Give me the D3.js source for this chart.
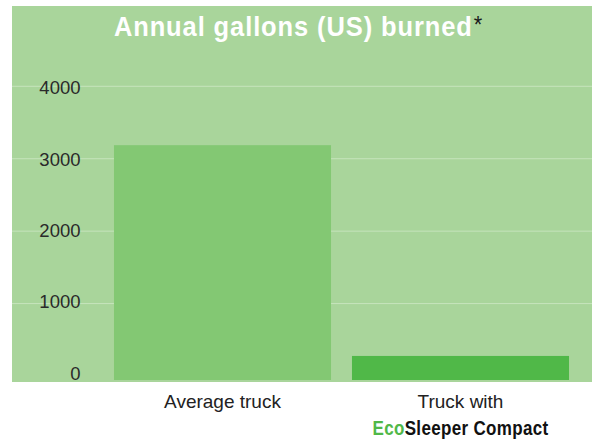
<!DOCTYPE html>
<html><head><meta charset="utf-8">
<script src="https://cdn.jsdelivr.net/npm/d3@7"></script>
<style>body{margin:0;background:#fff}svg{display:block}</style>
</head><body>
<script>
const categories = ["Average truck", "Truck with"];
const values = [3180, 270];
const yTicks = [0, 1000, 2000, 3000, 4000];
const titleText = "Annual gallons (US) burned";
const subLabelEco = "Eco";
const subLabelRest = "Sleeper Compact";
const barColors = ["#83c873", "#50b848"];

const W = 592, H = 441;
const svg = d3.select("body").append("svg").attr("width", W).attr("height", H);

const panel = {x: 12, y: 6, w: 580, h: 376};
svg.append("rect").attr("x", panel.x).attr("y", panel.y).attr("width", panel.w).attr("height", panel.h).attr("fill", "#a9d59b");

const x = d3.scaleBand().domain(categories).range([103.5, 579.5]).paddingInner(0.088).paddingOuter(0.044);
const y = d3.scaleLinear().domain([0, 4000]).range([375.5, 85.8]);
const yLabel = d3.scaleLinear().domain([0, 4000]).range([379.5, 94.3]);
const barBase = panel.y + panel.h - 2;

// gridlines
svg.append("g").selectAll("line").data(yTicks.filter(d => d > 0)).join("line")
  .attr("x1", panel.x).attr("x2", panel.x + panel.w)
  .attr("y1", d => y(d) + 0.5).attr("y2", d => y(d) + 0.5)
  .attr("stroke", "#c6e4bc").attr("stroke-width", 1);

// bars
svg.append("g").selectAll("rect").data(values).join("rect")
  .attr("x", (d, i) => x(categories[i]))
  .attr("width", x.bandwidth())
  .attr("y", d => y(d))
  .attr("height", d => barBase - y(d))
  .attr("fill", (d, i) => barColors[i]);

// y axis labels
svg.append("g").selectAll("text").data(yTicks).join("text")
  .attr("x", 80.5).attr("y", d => yLabel(d))
  .attr("text-anchor", "end")
  .attr("font-family", "Liberation Sans, Arial, sans-serif")
  .attr("font-size", 18.5).attr("fill", "#2a2a2a")
  .text(d => d);

// title (condensed via horizontal scale)
const tg = svg.append("g").attr("transform", "translate(298.5,35.5) scale(0.91,1)");
const t = tg.append("text").attr("x", 0).attr("y", 0).attr("text-anchor", "middle")
  .attr("font-family", "Liberation Sans, Arial, sans-serif")
  .attr("font-size", 28).attr("font-weight", "bold").attr("letter-spacing", 1.0);
t.append("tspan").attr("fill", "#ffffff").text(titleText);
t.append("tspan").attr("fill", "#1a1a1a").attr("font-weight", "normal").attr("font-size", 24).attr("dy", -3).attr("dx", 1).text("*");

// x labels
svg.append("g").selectAll("text").data(categories).join("text")
  .attr("x", d => x(d) + x.bandwidth() / 2)
  .attr("y", 407.5)
  .attr("text-anchor", "middle")
  .attr("font-family", "Liberation Sans, Arial, sans-serif")
  .attr("font-size", 19).attr("fill", "#222")
  .text(d => d);

const sg = svg.append("g").attr("transform", `translate(${x(categories[1]) + x.bandwidth() / 2},435) scale(0.85,1)`);
const sub = sg.append("text")
  .attr("x", 0).attr("y", 0)
  .attr("text-anchor", "middle")
  .attr("font-family", "Liberation Sans, Arial, sans-serif")
  .attr("font-size", 20).attr("font-weight", "bold").attr("letter-spacing", 0.4);
sub.append("tspan").attr("fill", "#50b848").text(subLabelEco);
sub.append("tspan").attr("fill", "#111").text(subLabelRest);
</script>
</body></html>
